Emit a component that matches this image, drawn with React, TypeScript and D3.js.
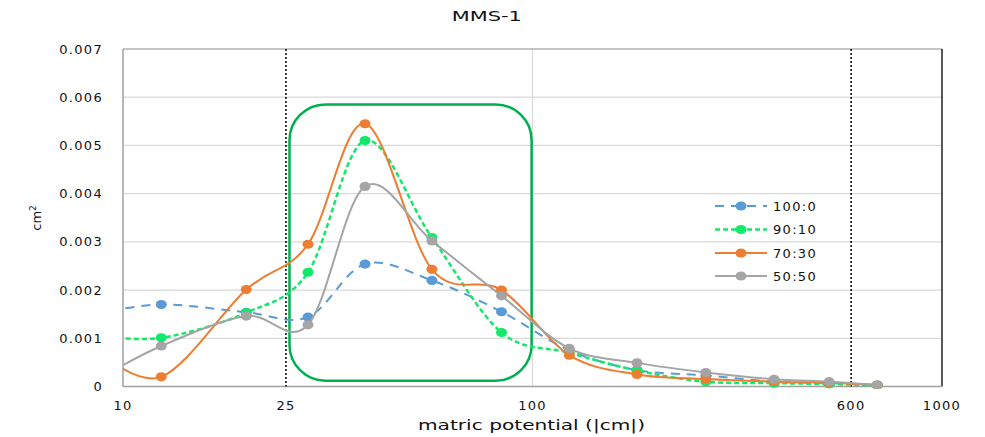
import React from "react";
import * as d3 from "d3";

// matric potential (|cm|) — first point lies just below the axis minimum and is clipped
const potentials = [8.5, 12.4, 20, 28.3, 39, 56.8, 84, 123, 180, 265, 389, 530, 695];

const series100_0 = [0.0015, 0.0017, 0.00154, 0.00144, 0.00254, 0.0022, 0.00155, 0.00075, 0.00034, 0.00023, 0.0001, 0.00007, 0.00003];
const series90_10 = [0.00106, 0.00101, 0.00153, 0.00237, 0.0051, 0.00309, 0.00112, 0.0007, 0.00033, 0.0001, 0.00007, 0.00005, 0.00002];
const series70_30 = [0.0008, 0.0002, 0.00201, 0.00295, 0.00545, 0.00243, 0.002, 0.00065, 0.00025, 0.000155, 0.0001, 0.00008, 0.00003];
const series50_50 = [0.0001, 0.00084, 0.00146, 0.00128, 0.00415, 0.00302, 0.00188, 0.00079, 0.00049, 0.00029, 0.00015, 0.0001, 0.00003];

const seriesNames = ["100:0", "90:10", "70:30", "50:50"];
const seriesValues = [series100_0, series90_10, series70_30, series50_50];
const seriesColors = ["#5B9BD5", "#12E86A", "#ED7D31", "#A5A5A5"];
const seriesDash = ["9,7", "5,3", null, null];

const xTicks = [10, 25, 100, 600, 1000];
const yTicks = [0, 0.001, 0.002, 0.003, 0.004, 0.005, 0.006, 0.007];
const yTickLabels = ["0", "0.001", "0.002", "0.003", "0.004", "0.005", "0.006", "0.007"];
const markerLines = [25, 600];
const highlightBox = { x0: 25.5, x1: 99.5, y0: 0.00012, y1: 0.00585 };

export default function App() {
  const W = 985, H = 437;
  const L = 123, R = 942, T = 49, B = 386.5;
  const x = d3.scaleLog().domain([10, 1000]).range([L, R]);
  const y = d3.scaleLinear().domain([0, 0.007]).range([B, T]);
  const line = d3
    .line<[number, number]>()
    .x((d) => x(d[0]))
    .y((d) => y(d[1]))
    .curve(d3.curveCardinal.tension(0));

  const font = "'DejaVu Sans', Verdana, sans-serif";
  const bx0 = x(highlightBox.x0), bx1 = x(highlightBox.x1);
  const by0 = y(highlightBox.y1), by1 = y(highlightBox.y0);

  return (
    <svg width={W} height={H} style={{ position: "absolute", left: 0, top: 0, background: "#fff" }}>
      <defs>
        <clipPath id="plotclip">
          <rect x={L} y={T - 2} width={R - L} height={B - T + 4} />
        </clipPath>
      </defs>
      {/* gridlines */}
      {yTicks.slice(1, -1).map((t) => (
        <line key={t} x1={L} x2={R} y1={y(t)} y2={y(t)} stroke="#D9D9D9" strokeWidth={1.2} />
      ))}
      <line x1={x(100)} x2={x(100)} y1={T} y2={B} stroke="#D9D9D9" strokeWidth={1.2} />
      {/* frame */}
      <line x1={L} x2={R} y1={T} y2={T} stroke="#8C8C8C" strokeWidth={1.2} />
      <line x1={R} x2={R} y1={T} y2={B} stroke="#000" strokeWidth={1.3} />
      <line x1={L} x2={L} y1={T} y2={B} stroke="#A0A0A0" strokeWidth={1.5} />
      <line x1={L} x2={R} y1={B} y2={B} stroke="#A0A0A0" strokeWidth={1.5} />
      {/* dotted reference lines */}
      {markerLines.map((v) => (
        <line key={v} x1={x(v)} x2={x(v)} y1={T} y2={B} stroke="#000" strokeWidth={1.5} strokeDasharray="2,2" />
      ))}
      {/* highlight box */}
      <rect x={bx0} y={by0} width={bx1 - bx0} height={by1 - by0} rx={36} ry={36} fill="none" stroke="#00B050" strokeWidth={2.5} />
      {/* series */}
      <g clipPath="url(#plotclip)">
        {seriesValues.map((vals, i) => {
          const pts = potentials.map((p, j) => [p, vals[j]] as [number, number]);
          return (
            <g key={i}>
              <path d={line(pts) || ""} fill="none" stroke={seriesColors[i]} strokeWidth={i === 1 ? 2.5 : 2} strokeDasharray={seriesDash[i] || undefined} />
              {pts.map((p, j) =>
                p[0] >= 10 ? (
                  <ellipse key={j} cx={x(p[0])} cy={y(p[1])} rx={5.5} ry={4.6} fill={seriesColors[i]} />
                ) : null
              )}
            </g>
          );
        })}
      </g>
      {/* y ticks */}
      {yTicks.map((t, i) => (
        <text key={t} x={103} y={y(t)} dy="0.35em" textAnchor="end" fontFamily={font} fontSize={13} letterSpacing={1.3} fill="#111">
          {yTickLabels[i]}
        </text>
      ))}
      {/* x ticks */}
      {xTicks.map((t) => (
        <text key={t} x={x(t)} y={405} dy="0.35em" textAnchor="middle" fontFamily={font} fontSize={13} letterSpacing={1.3} fill="#111">
          {t}
        </text>
      ))}
      {/* axis titles */}
      <text x={531.5} y={425} dy="0.35em" textAnchor="middle" fontFamily={font} fontSize={14} textLength={227} lengthAdjust="spacingAndGlyphs" fill="#111">
        matric potential (|cm|)
      </text>
      <text transform="translate(41,218) rotate(-90)" textAnchor="middle" fontFamily={font} fontSize={13} fill="#111">
        cm<tspan dy={-5} fontSize={9}>2</tspan>
      </text>
      <text x={486.7} y={16} dy="0.35em" textAnchor="middle" fontFamily={font} fontSize={14} textLength={70} lengthAdjust="spacingAndGlyphs" fill="#111">
        MMS-1
      </text>
      {/* legend */}
      {seriesNames.map((n, i) => {
        const ly = [206, 229.5, 253, 276][i];
        return (
          <g key={n}>
            <line x1={715} x2={767} y1={ly} y2={ly} stroke={seriesColors[i]} strokeWidth={i === 1 ? 2.5 : 2} strokeDasharray={seriesDash[i] || undefined} />
            <ellipse cx={741} cy={ly} rx={5.5} ry={4.6} fill={seriesColors[i]} />
            <text x={773} y={ly} dy="0.35em" fontFamily={font} fontSize={13} letterSpacing={1.3} fill="#111">
              {n}
            </text>
          </g>
        );
      })}
    </svg>
  );
}
